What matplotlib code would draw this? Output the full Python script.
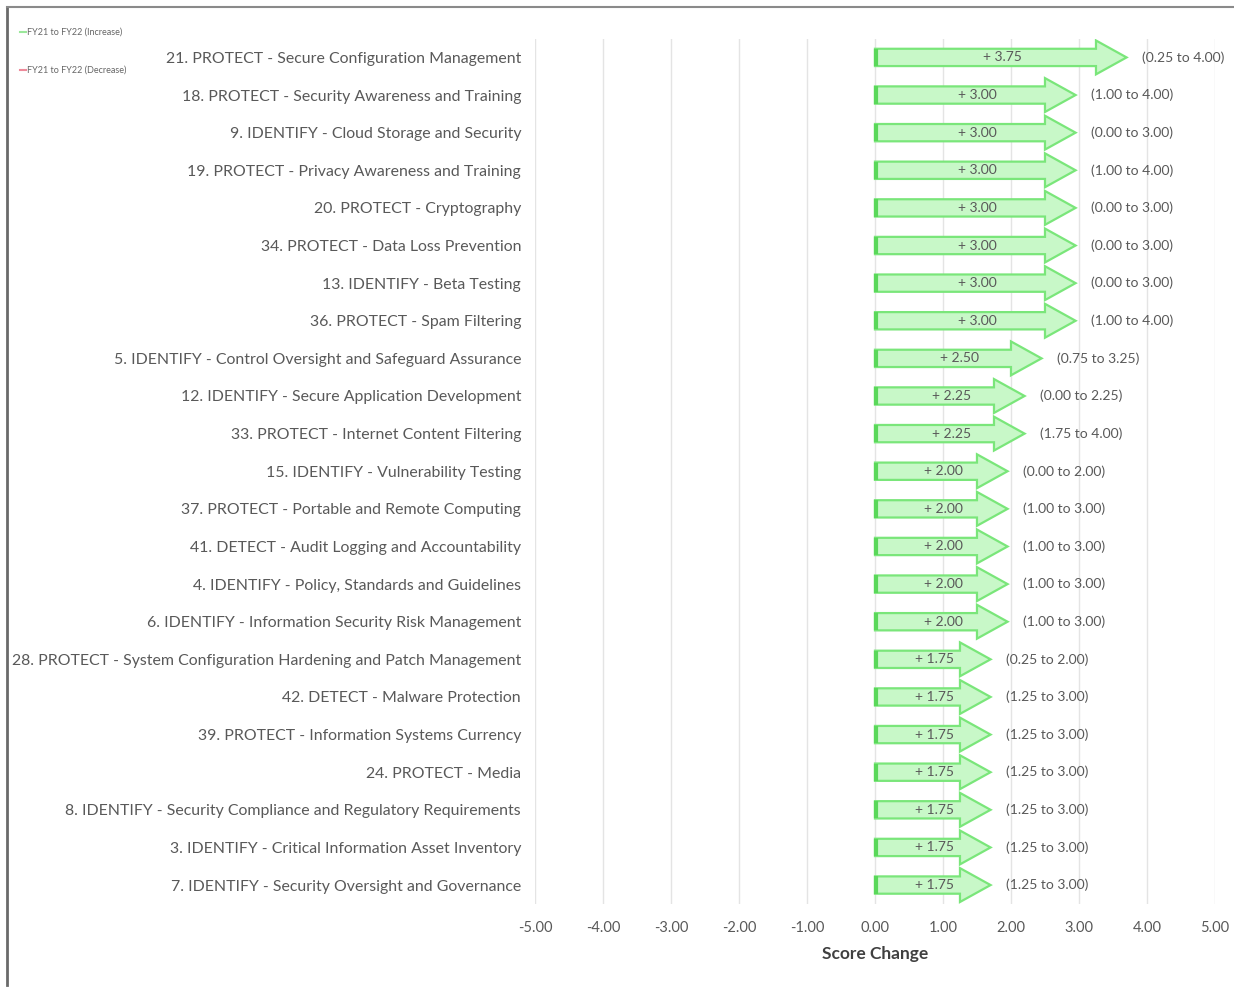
import matplotlib
matplotlib.use("Agg")
import matplotlib.pyplot as plt
from matplotlib.lines import Line2D

categories = [
    "21. PROTECT - Secure Configuration Management",
    "18. PROTECT - Security Awareness and Training",
    "9. IDENTIFY - Cloud Storage and Security",
    "19. PROTECT - Privacy Awareness and Training",
    "20. PROTECT - Cryptography",
    "34. PROTECT - Data Loss Prevention",
    "13. IDENTIFY - Beta Testing",
    "36. PROTECT - Spam Filtering",
    "5. IDENTIFY - Control Oversight and Safeguard Assurance",
    "12. IDENTIFY - Secure Application Development",
    "33. PROTECT - Internet Content Filtering",
    "15. IDENTIFY - Vulnerability Testing",
    "37. PROTECT - Portable and Remote Computing",
    "41. DETECT - Audit Logging and Accountability",
    "4. IDENTIFY - Policy, Standards and Guidelines",
    "6. IDENTIFY - Information Security Risk Management",
    "28. PROTECT - System Configuration Hardening and Patch Management",
    "42. DETECT - Malware Protection",
    "39. PROTECT - Information Systems Currency",
    "24. PROTECT - Media",
    "8. IDENTIFY - Security Compliance and Regulatory Requirements",
    "3. IDENTIFY - Critical Information Asset Inventory",
    "7. IDENTIFY - Security Oversight and Governance",
]
fy21 = [0.25, 1.00, 0.00, 1.00, 0.00, 0.00, 0.00, 1.00, 0.75, 0.00, 1.75, 0.00,
        1.00, 1.00, 1.00, 1.00, 0.25, 1.25, 1.25, 1.25, 1.25, 1.25, 1.25]
fy22 = [4.00, 4.00, 3.00, 4.00, 3.00, 3.00, 3.00, 4.00, 3.25, 2.25, 4.00, 2.00,
        3.00, 3.00, 3.00, 3.00, 2.00, 3.00, 3.00, 3.00, 3.00, 3.00, 3.00]
changes = [b - a for a, b in zip(fy21, fy22)]
xticks = [-5, -4, -3, -2, -1, 0, 1, 2, 3, 4, 5]

plt.rcParams['font.family'] = ['Lato', 'DejaVu Sans']
fig = plt.figure(figsize=(12.34, 9.9), dpi=100)
ax = fig.add_axes([0.4335, 0.087, 0.5511, 0.874])

n = len(categories)
ys = list(range(n))[::-1]
for y, c, a, b in zip(ys, changes, fy21, fy22):
    hl = 0.45
    arr = matplotlib.patches.FancyArrow(0, y, c - 0.05, 0, width=0.46, head_width=0.9,
                                        head_length=hl, length_includes_head=True,
                                        facecolor="#c8f8c8", edgecolor="#7ae67a",
                                        linewidth=1.6, zorder=3)
    ax.add_patch(arr)
    ax.plot([0.02, 0.02], [y - 0.23, y + 0.23], color="#5ad85a", lw=3, zorder=4,
            solid_capstyle="butt")
    ax.text(c / 2, y, f"+ {c:.2f}", ha="center", va="center", fontsize=10,
            color="#595959", zorder=5)
    ax.text(c + 0.17, y, f"({a:.2f} to {b:.2f})", ha="left", va="center",
            fontsize=10, color="#595959", zorder=5)

ax.set_xlim(-5, 5)
ax.set_ylim(-0.5, n - 0.5)
ax.set_xticks(xticks)
ax.set_xticklabels([f"{t:.2f}" for t in xticks], fontsize=10.5, color="#595959")
ax.set_yticks(ys)
ax.set_yticklabels(categories, fontsize=11.4, color="#595959")
ax.tick_params(axis="both", length=0)
ax.tick_params(axis="y", pad=10)
ax.tick_params(axis="x", pad=12)
for s in ax.spines.values():
    s.set_visible(False)
ax.grid(axis="x", color="#e4e4e4", lw=1, zorder=0)
ax.set_axisbelow(True)
ax.set_xlabel("Score Change", fontsize=12.5, fontweight="bold", color="#404040",
              labelpad=8)

# legend
fig.text(0.022, 1 - 32 / 990, "FY21 to FY22 (Increase)", fontsize=6.5, color="#666666",
         va="center")
fig.text(0.022, 1 - 70 / 990, "FY21 to FY22 (Decrease)", fontsize=6.5, color="#666666",
         va="center")
fig.add_artist(Line2D([0.016, 0.021], [1 - 32 / 990] * 2, color="#9be89b", lw=1.5))
fig.add_artist(Line2D([0.016, 0.021], [1 - 70 / 990] * 2, color="#ee8a9a", lw=1.5))

# frame
fig.add_artist(Line2D([7 / 1234, 7 / 1234], [0.005, 1 - 7 / 990], color="#6a6a6a", lw=2))
fig.add_artist(Line2D([7 / 1234, 1.0], [1 - 7 / 990] * 2, color="#8a8a8a", lw=1.5))

fig.savefig("out.png", dpi=100)
